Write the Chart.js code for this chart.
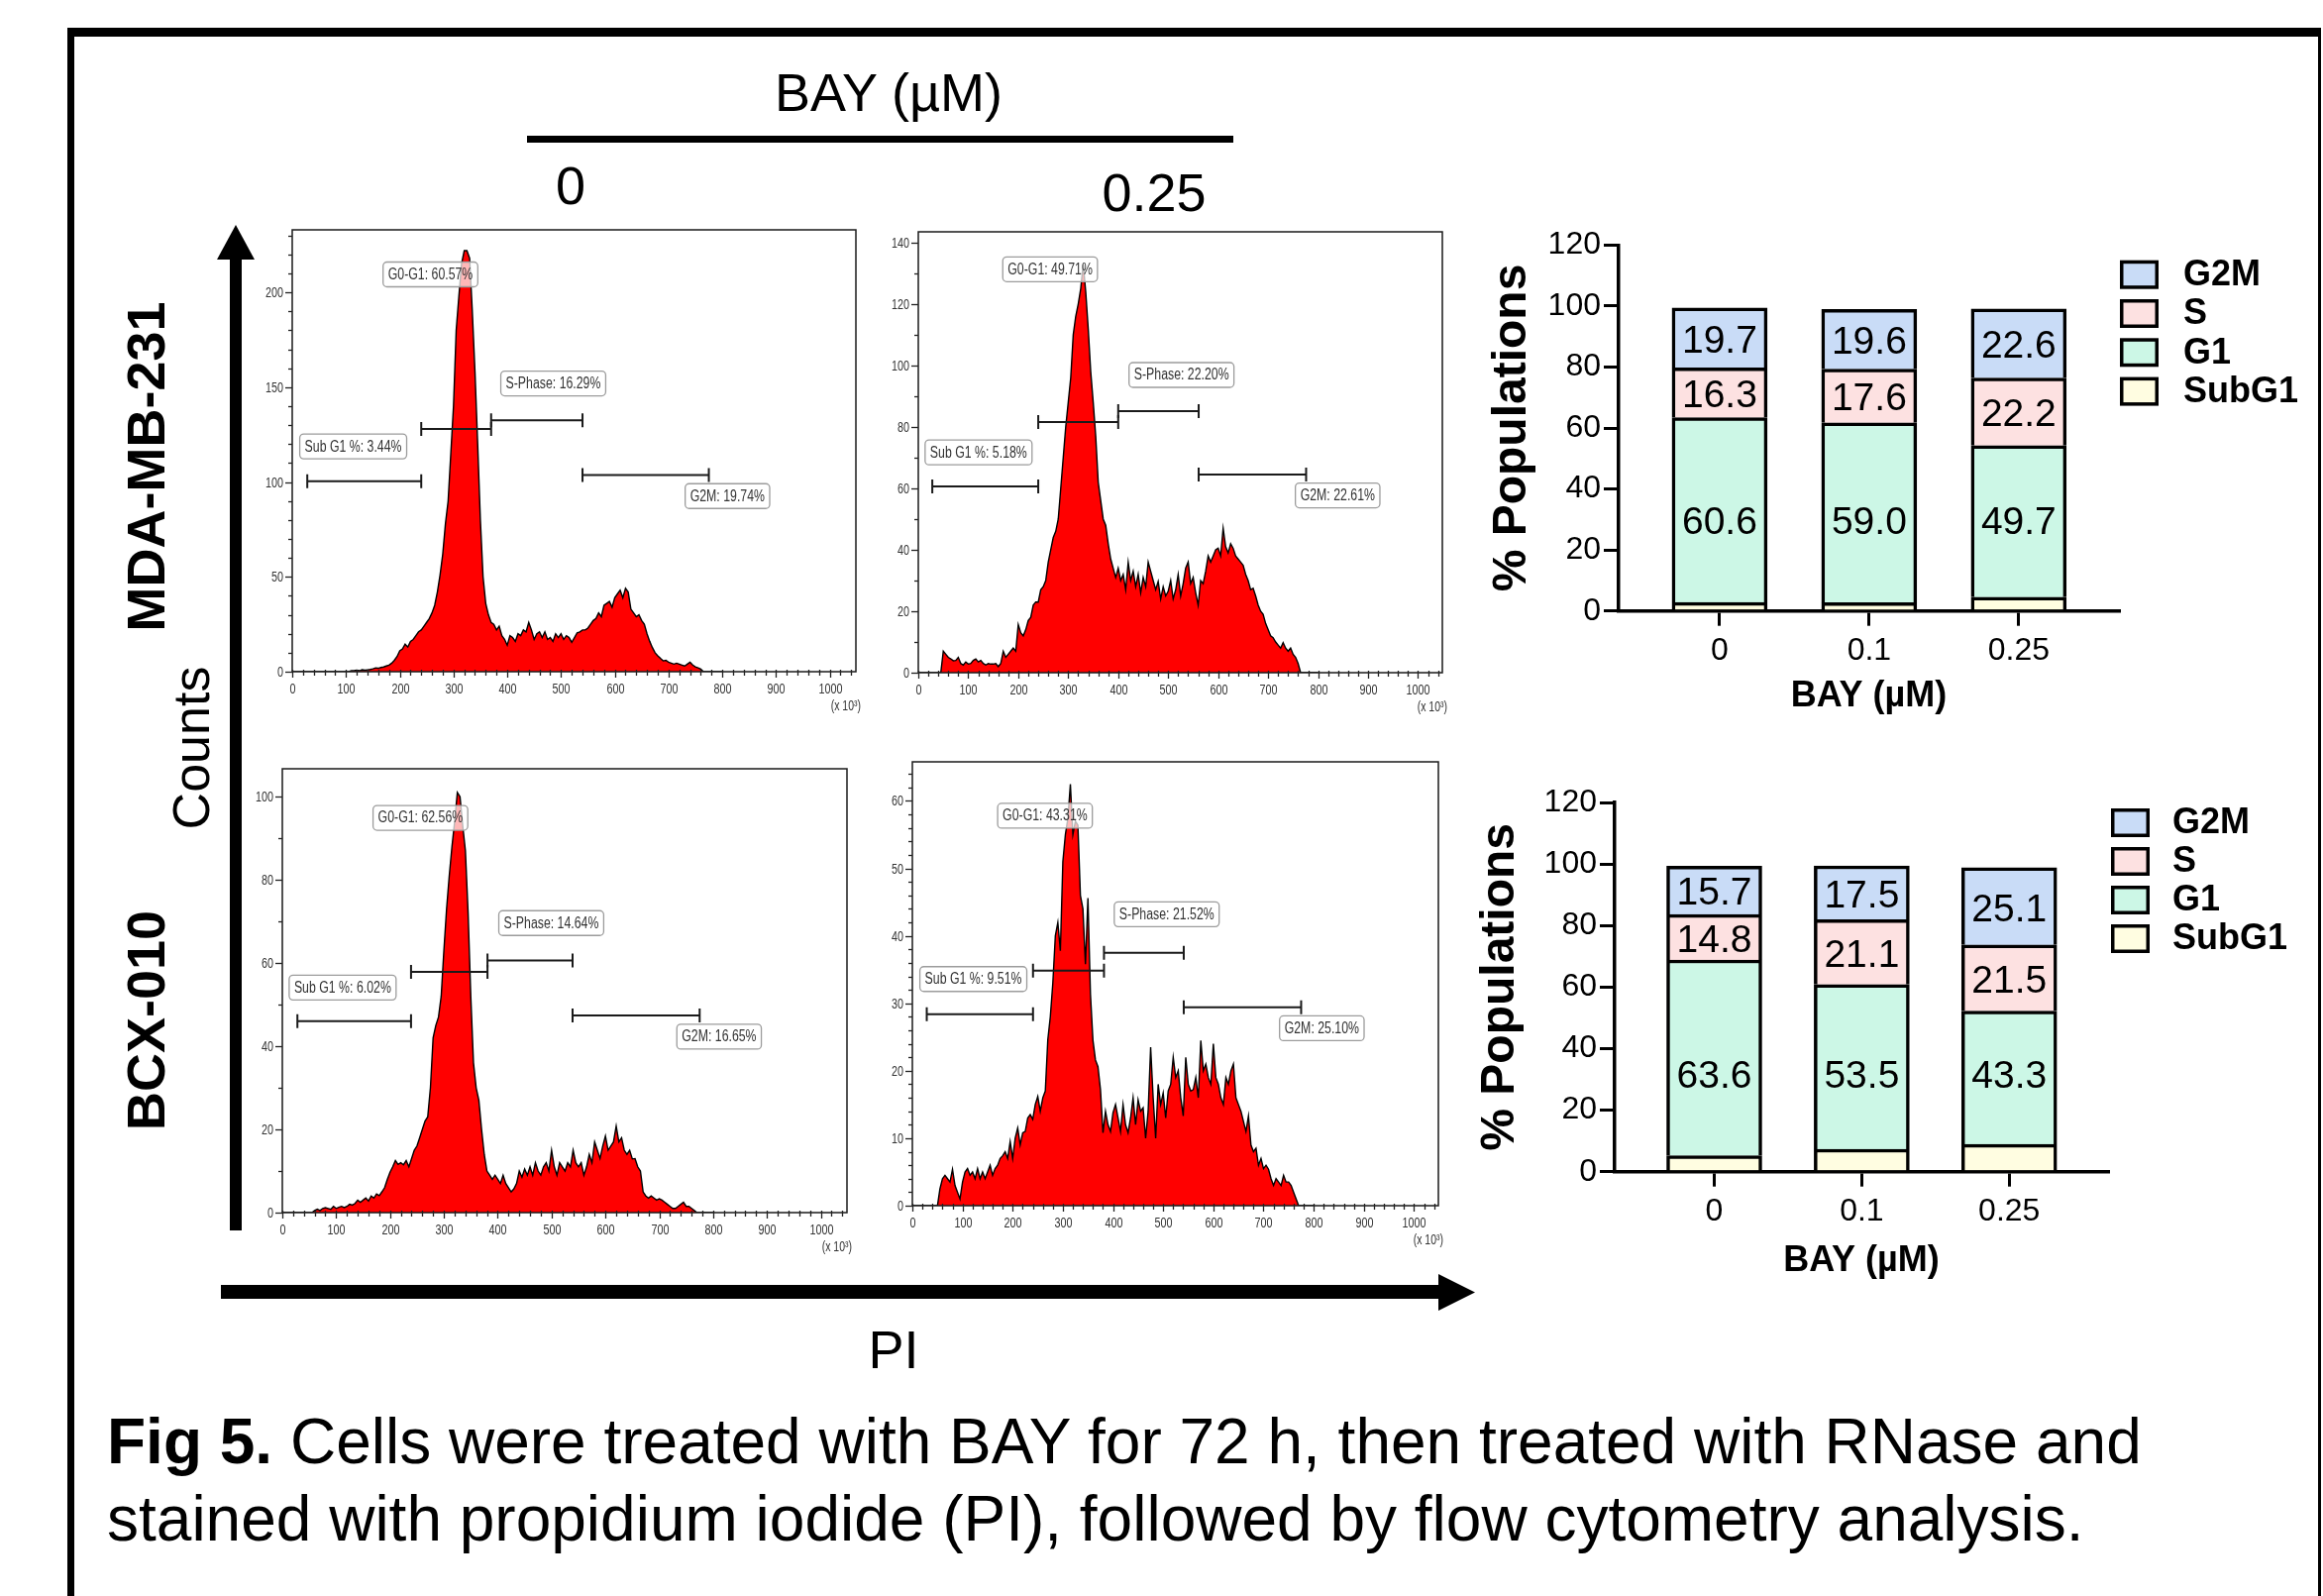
<!DOCTYPE html>
<html><head><meta charset="utf-8">
<script src="https://cdn.jsdelivr.net/npm/chart.js@4.4.1/dist/chart.umd.min.js"></script>
<style>
html,body{margin:0;padding:0;background:#fff;}
#root{position:relative;width:2345px;height:1611px;overflow:hidden;background:#fff;}
canvas{position:absolute;}
.t{position:absolute;white-space:nowrap;font-family:"Liberation Sans",Arial,Helvetica,sans-serif;line-height:1;color:#000;transform:translate(-50%,-50%);}
.rot{transform:translate(-50%,-50%) rotate(-90deg);}
.cap{position:absolute;white-space:nowrap;font-family:"Liberation Sans",Arial,Helvetica,sans-serif;line-height:1;font-size:64px;color:#000;}
</style></head><body><div id="root">
<div style="position:absolute;left:68px;top:28px;width:2265px;height:1700px;border-left:7px solid #000;border-top:9px solid #000;border-right:3px solid #000;"></div>
<svg style="position:absolute;left:0;top:0" width="2345" height="1611">
 <rect x="232" y="258" width="12" height="984" fill="#000"/>
 <polygon points="219,262 257,262 238,227" fill="#000"/>
 <rect x="223" y="1297" width="1232" height="14" fill="#000"/>
 <polygon points="1452,1286 1452,1323 1489,1304.5" fill="#000"/>
 <rect x="532" y="137" width="713" height="7" fill="#000"/>
</svg>
<div class="t" style="left:897px;top:93px;font-size:54px;">BAY (µM)</div>
<div class="t" style="left:576px;top:187px;font-size:54px;">0</div>
<div class="t" style="left:1165px;top:194px;font-size:54px;">0.25</div>
<div class="t" style="left:902px;top:1362px;font-size:54px;">PI</div>
<div class="t rot" style="left:147px;top:471px;font-size:54px;font-weight:bold;">MDA-MB-231</div>
<div class="t rot" style="left:147px;top:1030px;font-size:54px;font-weight:bold;">BCX-010</div>
<div class="t rot" style="left:193px;top:755px;font-size:52px;">Counts</div>
<div class="cap" style="left:108px;top:1423px;"><b>Fig 5.</b> Cells were treated with BAY for 72 h, then treated with RNase and</div>
<div class="cap" style="left:108px;top:1501px;">stained with propidium iodide (PI), followed by flow cytometry analysis.</div>
<canvas id="h1" width="649" height="501" style="left:235px;top:222px"></canvas>
<canvas id="h2" width="609" height="500" style="left:867px;top:224px"></canvas>
<canvas id="h3" width="650" height="503" style="left:225px;top:766px"></canvas>
<canvas id="h4" width="611" height="503" style="left:861px;top:759px"></canvas>
<canvas id="b1" width="865" height="540" style="left:1480px;top:200px"></canvas>
<canvas id="b2" width="865" height="540" style="left:1480px;top:770px"></canvas>
</div>
<script>
// ---------------- data ----------------
const BIN = 5;               // histogram bin width (x10^3 PI units)
const X_AXIS_MAX = 1048.576; // histogram x-axis maximum (x10^3)
const phaseNames = ['Sub G1 %', 'G0-G1', 'S-Phase', 'G2M'];

// counts per bin, MDA-MB-231, 0 uM (bins 0..800)
const mda0Counts = [
 0,0,0,0,0,0,0,0,0,0,0,0,0,0,0,0,0,0,0,0,
 0,0,0.5,0.5,0.8,0.5,1,0.8,1,1.2,1.5,2,1.8,2.2,2.5,3,3.5,4.5,6,8,
 11,12,14.5,13,16,17,19,21,22,24,26,28,31,35,42,51,62,78,90,115,
 140,180,198,215,222,222,218,190,158,120,80,50,36,30,26,25,22,24,19,17,
 14,19,18,16,20,19,22,21,26,22,17,20,21,18,21,17,18,16,20,18,
 20,17,19,18,15.5,18,20.5,21,22,22,23,25,27,28,31,29,35,36,37,34,
 39,41,43,39,44,42,33,31,29,30,27,25,20,16,12.7,10,8.4,7,5.7,6,
 5,4.5,4,4.5,4,3.5,3,4,5,3.5,2.6,2,1.4,0,0,0,0,0,0,0,
 0];
// MDA-MB-231, 0.25 uM
const mda025Counts = [
 0,0,0,0,0,0,0,0,0,0,7,6,5,4.5,3.9,4,5,3,2.5,3.5,
 2.8,3,4,4.5,3.5,4,3,2.5,3,2.8,2.8,3,2,3,7,5,6,7,8,7,
 15.7,13,12,14,17,18,22,23,23,27,28,30,36,40,44,46,50,60,70,80,
 88,96,110,116,120,125,133,124,112,98,88,77,62,56,50,48,42,37,34,31,
 34,30,32,27,36,30,33,28,32,26,31,28,36,33,30,27,29.7,24,28,25,
 26.5,30,24,27,32,25,29,34,36,29,31,26,22,30,29,33,38,36,38,40,
 40.5,38,47,41,39,42,40.5,38,37,36,35,32,30,27,27.5,25,22,20,19,16,
 14,12,11.4,10,9,8,9.8,8,7,8,6,5,3,0,0,0,0,0,0,0,
 0];
// BCX-010, 0 uM
const bcx0Counts = [
 0,0,0,0,0,0,0,0,0,0,0,0,0.5,0.8,0.5,1,1.2,1,0.8,1.5,
 1,1.3,1.5,1.2,1.5,2,1.8,2.2,3,2.5,3,3.5,2.8,4,3.5,4.5,4.1,5,6,8,
 9.7,11,12.5,11.6,12,11.5,12.5,11,13,15,16,18,20,22,23,30,42,45,47,52,
 63,73,81,88,94,101,100,93,87,72,52,36,30,27,20,14,10,9,8,9,
 8,7,9,7,6,5,5.7,7,10,8.5,10.5,9,11,9,12,10,9,11,12,10,
 15,11,9,12,11,10,12,11,15,12,11,12,9,11,14,12,17,15,13,16,
 18.4,15,16,17,20.8,17,18,15,14,15,12.9,13,11,10,5,4,3.5,4,3.5,3,
 3.3,3,2.5,2,1.5,1,1,1.5,2,2.5,1.5,1.5,1,0.5,0,0,0,0,0,0,
 0];
// BCX-010, 0.25 uM
const bcx025Counts = [
 0,0,0,0,0,0,0,0,0,0,0,2.5,4,4.5,4,3.5,5.4,3,2,1,
 3.5,5,5.5,4.5,5,4,5.5,4,5,4,5,6,4.5,5.5,6,7,7.4,8,7,9.5,
 7,10,11.5,9,10.8,11,13,13.5,12.8,15,16.2,14,16,17,24.6,28,33,40,42,37.8,
 51,55,57.4,62.5,55,57,56.4,46,44,35.8,45.6,31.4,24.5,21.6,20.6,17.2,10.8,14,12,11,
 13.8,15,13,11,15,12,10.8,13,16,12,15.7,14,14.5,10,14,23.5,16,10,18,15,
 16.7,13,17,18,22,19,20,16,13.3,22,18,17,17.2,19,16,24.5,20,21,19,18,
 24,19,18,16,15,19,18,20,21,16,15,14,12.5,11,13.3,9,8,8.5,6,7,
 5.5,6,5.4,4,3,4,3.5,3,4.5,3.5,3.5,3,2,1,0,0,0,0,0,0,
 0];

// gate percentages shown on each histogram
const mda0Pct   = [3.44, 60.57, 16.29, 19.74];
const mda025Pct = [5.18, 49.71, 22.20, 22.61];
const bcx0Pct   = [6.02, 62.56, 14.64, 16.65];
const bcx025Pct = [9.51, 43.31, 21.52, 25.10];

// gate markers [from, to, height] in data units
const mda0Gates   = [[28,240,100.4],[240,370,128],[370,540,132.5],[540,775,103.7]];
const mda025Gates = [[28,240,60.6],[240,400,81.6],[400,561,85.1],[561,776,64.5]];
const bcx0Gates   = [[28,239,46],[239,381,57.9],[381,539,60.6],[539,775,47.4]];
const bcx025Gates = [[28.7,240.5,28.4],[240.5,382,34.85],[382,541,37.5],[541,775,29.4]];

// label anchors [left x, centre y] in data units
const mda0Anchors   = [[14,118.8],[169,209.5],[388,152],[731,92.6]];
const mda025Anchors = [[13.6,71.7],[169,131.3],[421.7,96.9],[754.5,57.7]];
const bcx0Anchors   = [[12.7,54.1],[168.5,94.9],[402,69.6],[732.6,42.3]];
const bcx025Anchors = [[15,33.6],[170,57.8],[402.5,43.2],[732,26.3]];

// stacked bar data
const doses = ['0', '0.1', '0.25'];
const doseIndex = [0, 1, 2];
const mdaSubG1 = [2.8, 2.7, 4.5];
const mdaG1    = [60.6, 59.0, 49.7];
const mdaS     = [16.3, 17.6, 22.2];
const mdaG2M   = [19.7, 19.6, 22.6];
const bcxSubG1 = [5.2, 7.3, 8.9];
const bcxG1    = [63.6, 53.5, 43.3];
const bcxS     = [14.8, 21.1, 21.5];
const bcxG2M   = [15.7, 17.5, 25.1];
const popTicks = [0, 20, 40, 60, 80, 100, 120];

// ---------------- drawing ----------------
const FONT = '"Liberation Sans", Arial, Helvetica, sans-serif';
Chart.defaults.font.family = FONT;
Chart.defaults.color = '#000';

function sText(ctx, txt, x, y, size, align, squeeze, color, weight) {
  ctx.save();
  ctx.font = (weight || '') + ' ' + size + 'px ' + FONT;
  ctx.fillStyle = color;
  ctx.textBaseline = 'middle';
  ctx.textAlign = 'left';
  const w = ctx.measureText(txt).width * squeeze;
  const x0 = align === 'right' ? x - w : (align === 'center' ? x - w / 2 : x);
  ctx.translate(x0, y);
  ctx.scale(squeeze, 1);
  ctx.fillText(txt, 0, 0);
  ctx.restore();
  return w;
}

const histDecor = {
  id: 'histDecor',
  afterDatasetsDraw(chart) {
    const o = chart.options.plugins.histDecor;
    const {ctx, chartArea: a, scales: {x, y}} = chart;
    ctx.save();
    ctx.strokeStyle = '#1a1a1a'; ctx.lineWidth = 1.5;
    ctx.strokeRect(a.left, a.top, a.right - a.left, a.bottom - a.top);
    ctx.lineWidth = 1.3; ctx.strokeStyle = '#222';
    const ratioY = Math.round(o.yMajor / o.yMinor);
    for (let k = 0; k * o.yMinor <= y.max + 1e-9; k++) {
      const v = k * o.yMinor, py = Math.round(y.getPixelForValue(v)) + 0.5;
      const major = k % ratioY === 0;
      ctx.beginPath(); ctx.moveTo(a.left, py); ctx.lineTo(a.left - (major ? 7 : 4), py); ctx.stroke();
      if (major) sText(ctx, String(v), a.left - 9, py, 15, 'right', 0.72, '#333');
    }
    for (let k = 0; k * 20 <= x.max; k++) {
      const v = k * 20, px = Math.round(x.getPixelForValue(v)) + 0.5;
      const major = k % 5 === 0;
      ctx.beginPath(); ctx.moveTo(px, a.bottom - 2); ctx.lineTo(px, a.bottom + (major ? 6 : 4)); ctx.stroke();
      if (major) sText(ctx, String(v), px, a.bottom + 18, 15, 'center', 0.72, '#333');
    }
    sText(ctx, '(x 10³)', a.right + 5, a.bottom + 35, 14, 'right', 0.75, '#333');
    ctx.strokeStyle = '#1a1a1a'; ctx.lineWidth = 2;
    o.gates.forEach(g => {
      const x1 = x.getPixelForValue(g[0]), x2 = x.getPixelForValue(g[1]), py = y.getPixelForValue(g[2]);
      ctx.beginPath();
      ctx.moveTo(x1, py); ctx.lineTo(x2, py);
      ctx.moveTo(x1, py - 7); ctx.lineTo(x1, py + 7);
      ctx.moveTo(x2, py - 7); ctx.lineTo(x2, py + 7);
      ctx.stroke();
    });
    o.anchors.forEach((an, i) => {
      const txt = phaseNames[i] + ': ' + o.pct[i].toFixed(2) + '%';
      ctx.font = '16px ' + FONT;
      const tw = ctx.measureText(txt).width * 0.77;
      const bx = x.getPixelForValue(an[0]), by = y.getPixelForValue(an[1]);
      const bw = tw + 10, bh = 25;
      ctx.beginPath();
      ctx.roundRect(bx, by - bh / 2, bw, bh, 4);
      ctx.fillStyle = 'rgba(255,255,255,0.72)'; ctx.fill();
      ctx.strokeStyle = '#9c9c9c'; ctx.lineWidth = 1.3; ctx.stroke();
      sText(ctx, txt, bx + 5, by + 0.5, 16, 'left', 0.77, '#333');
    });
    ctx.restore();
  }
};

function histogram(id, counts, yMax, yMajor, yMinor, gates, anchors, pct) {
  new Chart(document.getElementById(id), {
    type: 'line',
    data: {datasets: [{
      data: counts.map((c, i) => ({x: i * BIN, y: c})),
      borderColor: '#000', borderWidth: 1.4, backgroundColor: '#ff0000',
      fill: 'origin', pointRadius: 0, tension: 0
    }]},
    options: {
      responsive: false, animation: false, events: [],
      layout: {padding: {left: 60, top: 10, right: 20, bottom: 45}},
      scales: {
        x: {type: 'linear', min: 0, max: X_AXIS_MAX, display: false},
        y: {type: 'linear', min: 0, max: yMax, display: false}
      },
      plugins: {legend: {display: false}, tooltip: {enabled: false},
        histDecor: {yMajor, yMinor, gates, anchors, pct}}
    },
    plugins: [histDecor]
  });
}

histogram('h1', mda0Counts, 233, 50, 10, mda0Gates, mda0Anchors, mda0Pct);
histogram('h2', mda025Counts, 143.5, 20, 10, mda025Gates, mda025Anchors, mda025Pct);
histogram('h3', bcx0Counts, 106.7, 20, 10, bcx0Gates, bcx0Anchors, bcx0Pct);
histogram('h4', bcx025Counts, 65.8, 10, 2, bcx025Gates, bcx025Anchors, bcx025Pct);

const stackLegend = {
  id: 'stackLegend',
  afterDraw(chart) {
    const o = chart.options.plugins.stackLegend;
    const ctx = chart.ctx, ds = chart.data.datasets;
    ctx.save();
    for (let k = 0; k < ds.length; k++) {
      const d = ds[ds.length - 1 - k];
      const top = o.top + k * o.step;
      ctx.fillStyle = d.backgroundColor;
      ctx.fillRect(o.left + 1.75, top + 1.75, 35.5, 25.5);
      ctx.strokeStyle = '#000'; ctx.lineWidth = 3.5;
      ctx.strokeRect(o.left + 1.75, top + 1.75, 35.5, 25.5);
      ctx.fillStyle = '#000'; ctx.font = 'bold 36px ' + FONT;
      ctx.textBaseline = 'middle'; ctx.textAlign = 'left';
      ctx.fillText(d.label, o.left + o.textDx, top + 15.5);
    }
    ctx.restore();
  }
};
const segLabels = {
  id: 'segLabels',
  afterDatasetsDraw(chart) {
    const ctx = chart.ctx, ys = chart.scales.y;
    const fixedAt = chart.options.plugins.segLabels.g1LabelAt;
    ctx.save();
    ctx.font = '39px ' + FONT; ctx.fillStyle = '#000';
    ctx.textAlign = 'center'; ctx.textBaseline = 'middle';
    chart.data.datasets.forEach((d, di) => {
      if (!d.showValues) return;
      chart.getDatasetMeta(di).data.forEach((el, i) => {
        const p = el.getProps(['x', 'y', 'base'], true);
        const cy = d.label === 'G1' ? ys.getPixelForValue(fixedAt) : (p.y + p.base) / 2 + 4;
        ctx.fillText(d.data[i].y.toFixed(1), p.x, cy);
      });
    });
    ctx.restore();
  }
};

function stacked(id, sub, g1, s, g2m, L) {
  const xy = arr => arr.map((v, i) => ({x: doseIndex[i], y: v}));
  const common = {borderColor: '#000', borderWidth: 3.5, barThickness: 96};
  new Chart(document.getElementById(id), {
    type: 'bar',
    data: {datasets: [
      Object.assign({label: 'SubG1', data: xy(sub), backgroundColor: '#FFFDE1'}, common),
      Object.assign({label: 'G1', data: xy(g1), backgroundColor: '#CCF7E6', showValues: true}, common),
      Object.assign({label: 'S', data: xy(s), backgroundColor: '#FDE1E1', showValues: true}, common),
      Object.assign({label: 'G2M', data: xy(g2m), backgroundColor: '#C9DCF7', showValues: true}, common)
    ]},
    options: {
      responsive: false, animation: false, events: [],
      layout: {padding: {left: 0, top: L.padTop, right: L.padRight, bottom: L.padBottom}},
      scales: {
        x: {
          type: 'linear', min: -0.675, max: 2.67, stacked: true, bounds: 'data', offset: false,
          afterBuildTicks: sc => { sc.ticks = doseIndex.map(v => ({value: v})); },
          afterFit: sc => { sc.height = L.xH; },
          ticks: {callback: v => doses[v], font: {size: 32}, color: '#000', padding: 6, maxRotation: 0},
          grid: {display: true, offset: false, drawOnChartArea: false, drawTicks: true, tickLength: 15, color: '#000', lineWidth: 3},
          border: {display: true, color: '#000', width: 3.5},
          title: {display: true, text: 'BAY (µM)', font: {size: 36, weight: 'bold'}, color: '#000', padding: {top: 0, bottom: 0}}
        },
        y: {
          min: 0, max: 120, stacked: true,
          afterBuildTicks: sc => { sc.ticks = popTicks.map(v => ({value: v})); },
          afterFit: sc => { sc.width = L.yW; },
          ticks: {font: {size: 32}, color: '#000', padding: 3},
          grid: {display: true, drawOnChartArea: false, drawTicks: true, tickLength: 15, color: '#000', lineWidth: 3},
          border: {display: true, color: '#000', width: 3.5},
          title: {display: true, text: '% Populations', font: {size: 48, weight: 'bold'}, color: '#000', padding: {top: L.yTitlePad, bottom: 0}}
        }
      },
      plugins: {legend: {display: false}, tooltip: {enabled: false},
        segLabels: {g1LabelAt: L.g1At},
        stackLegend: {left: L.legLeft, top: L.legTop, step: L.legStep, textDx: L.legDx}}
    },
    plugins: [segLabels, stackLegend]
  });
}

stacked('b1', mdaSubG1, mdaG1, mdaS, mdaG2M,
  {padTop: 47.3, padRight: 206, padBottom: 15.3, xH: 108, yW: 154, yTitlePad: 18, g1At: 28.8,
   legLeft: 660, legTop: 62.7, legStep: 39.3, legDx: 64});
stacked('b2', bcxSubG1, bcxG1, bcxS, bcxG2M,
  {padTop: 40, padRight: 217, padBottom: 15.3, xH: 112, yW: 150, yTitlePad: 6, g1At: 30.8,
   legLeft: 651, legTop: 46, legStep: 39, legDx: 62});
</script>
</body></html>
